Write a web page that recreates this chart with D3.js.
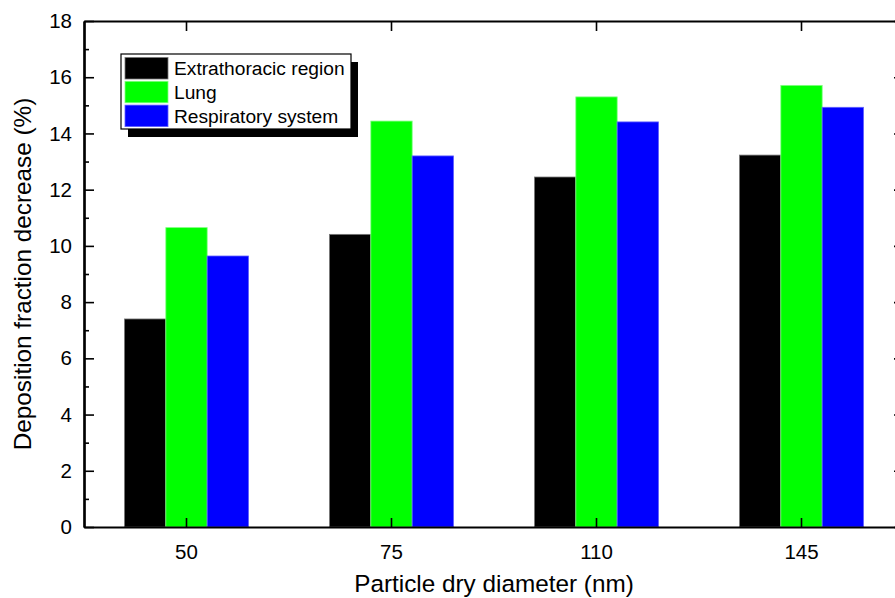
<!DOCTYPE html>
<html>
<head>
<meta charset="utf-8">
<script src="https://cdn.jsdelivr.net/npm/d3@7"></script>
<style>
  body { margin: 0; background: #fff; }
  svg { display: block; font-family: Arial, "Liberation Sans", sans-serif; }
</style>
</head>
<body>
<div id="chart"></div>
<script>
// data
var categories = ['50', '75', '110', '145'];
var seriesNames = ['Extrathoracic region', 'Lung', 'Respiratory system'];
var extrathoracic = [7.40, 10.41, 12.45, 13.23];
var lung = [10.65, 14.44, 15.30, 15.71];
var respiratory = [9.64, 13.20, 14.41, 14.93];
var yTicks = [0, 2, 4, 6, 8, 10, 12, 14, 16, 18];
var yMinorTicks = [1, 3, 5, 7, 9, 11, 13, 15, 17];

var colors = ['#000000', '#00ff00', '#0000ff'];
var strokes = ['#777777', '#80ff80', '#6060ff'];

var margin = { top: 21, right: 0, bottom: 71, left: 84 };
var W = 895, H = 598;
var width = 820;              // plot runs off the right edge of the picture
var height = H - margin.top - margin.bottom;

var series = [extrathoracic, lung, respiratory];
var rows = categories.map(function(c, i) {
  return { cat: c, values: series.map(function(s, j) { return { key: j, value: s[i] }; }) };
});

var x = d3.scaleBand().domain(categories).range([0, width]).padding(0);
var inner = d3.scaleBand().domain([0, 1, 2]).range([0, x.bandwidth() * 0.605]).padding(0);
var y = d3.scaleLinear().domain([0, 18]).range([height, 0]);

var svg = d3.select('#chart').append('svg')
  .attr('width', W)
  .attr('height', H);

var g = svg.append('g')
  .attr('transform', 'translate(' + margin.left + ',' + margin.top + ')');

// bars
var groups = g.selectAll('.group')
  .data(rows).enter()
  .append('g')
  .attr('class', 'group')
  .attr('transform', function(d) {
    return 'translate(' + (x(d.cat) + (x.bandwidth() - inner.range()[1]) / 2) + ',0)';
  });

groups.selectAll('rect')
  .data(function(d) { return d.values; }).enter()
  .append('rect')
  .attr('x', function(d) { return inner(d.key); })
  .attr('y', function(d) { return y(d.value); })
  .attr('width', inner.bandwidth())
  .attr('height', function(d) { return height - y(d.value); })
  .attr('fill', function(d) { return colors[d.key]; })
  .attr('stroke', function(d) { return strokes[d.key]; })
  .attr('stroke-width', 0.8);

// axes
function styleAxis(sel) {
  sel.select('.domain').attr('stroke', '#000').attr('stroke-width', 2.2);
  sel.selectAll('.tick line').attr('stroke', '#000').attr('stroke-width', 1.6);
  sel.selectAll('.tick text').attr('fill', '#000').style('font-size', '20.5px')
    .style('font-family', 'Arial, "Liberation Sans", sans-serif');
}

var yAxis = d3.axisLeft(y).tickValues(yTicks).tickSize(-10).tickPadding(12).tickSizeOuter(0);
g.append('g').attr('class', 'y axis').call(yAxis).call(styleAxis);
g.append('g').attr('class', 'y minor')
  .call(d3.axisLeft(y).tickValues(yMinorTicks).tickSize(-5).tickFormat('').tickSizeOuter(0))
  .call(styleAxis);

var yRight = d3.axisLeft(y).tickValues(yTicks).tickSize(10).tickFormat('').tickSizeOuter(0);
g.append('g').attr('transform', 'translate(' + width + ',0)').call(yRight).call(styleAxis);

var xAxis = d3.axisBottom(x).tickSize(-9).tickPadding(17).tickSizeOuter(0);
g.append('g').attr('class', 'x axis')
  .attr('transform', 'translate(0,' + height + ')')
  .call(xAxis).call(styleAxis);

var xTop = d3.axisTop(x).tickSize(-10).tickFormat('').tickSizeOuter(0);
g.append('g').call(xTop).call(styleAxis);

// axis titles
svg.append('text')
  .attr('x', margin.left + width / 2)
  .attr('y', 592)
  .attr('text-anchor', 'middle')
  .style('font-size', '24.3px')
  .text('Particle dry diameter (nm)');

svg.append('text')
  .attr('transform', 'translate(31,' + (margin.top + height / 2) + ') rotate(-90)')
  .attr('text-anchor', 'middle')
  .style('font-size', '24.3px')
  .text('Deposition fraction decrease (%)');

// legend
var legend = svg.append('g').attr('transform', 'translate(121,54)');
legend.append('rect')
  .attr('x', 7).attr('y', 8)
  .attr('width', 230).attr('height', 75)
  .attr('fill', '#000');
legend.append('rect')
  .attr('x', 0).attr('y', 0)
  .attr('width', 230).attr('height', 75)
  .attr('fill', '#fff')
  .attr('stroke', '#000')
  .attr('stroke-width', 1.2);

var items = legend.selectAll('.item')
  .data(seriesNames).enter()
  .append('g')
  .attr('class', 'item')
  .attr('transform', function(d, i) { return 'translate(4,' + (3.5 + i * 23.8) + ')'; });

items.append('rect')
  .attr('width', 43).attr('height', 21.5)
  .attr('fill', function(d, i) { return colors[i]; })
  .attr('stroke', function(d, i) { return strokes[i]; })
  .attr('stroke-width', 0.8);

items.append('text')
  .attr('x', 49).attr('y', 17.5)
  .style('font-size', '19.2px')
  .text(function(d) { return d; });
</script>
</body>
</html>
